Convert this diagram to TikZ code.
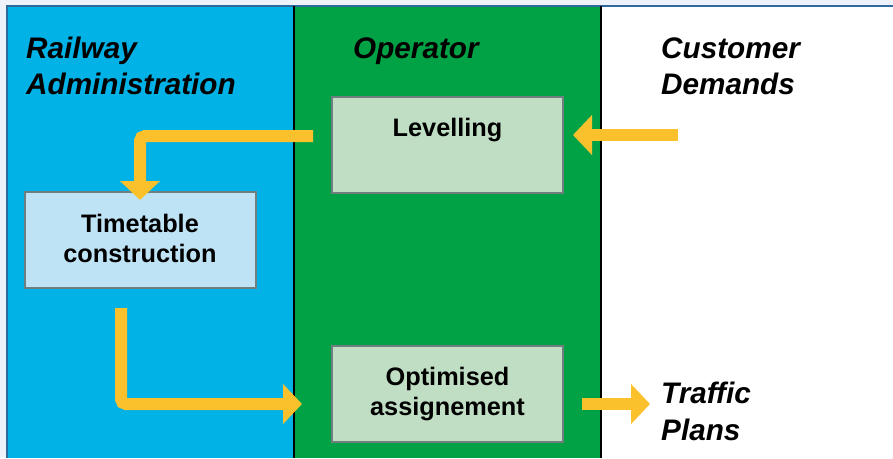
\documentclass[tikz,border=0pt]{standalone}
\usepackage{fontspec}
\setmainfont{Liberation Sans}
\usetikzlibrary{arrows.meta}

\definecolor{pagebg}{HTML}{EEF3FB}
\definecolor{frameline}{HTML}{2F6A9C}
\definecolor{railblue}{HTML}{00B2E5}
\definecolor{opgreen}{HTML}{00A245}
\definecolor{flowyellow}{HTML}{FBC12D}
\definecolor{boxgreen}{HTML}{BFDEC3}
\definecolor{boxblue}{HTML}{BEE3F5}
\definecolor{boxline}{HTML}{6F7F80}

% multi-line text nodes sit on the baseline of their last line
\tikzset{
  lane title/.style={anchor=base west, align=left, inner sep=0pt,
    font=\fontsize{29.7}{36.5}\selectfont\bfseries\itshape},
  taskbox/.style={draw=boxline, line width=2pt, minimum width=231pt,
    minimum height=96pt, inner sep=0pt},
  task text/.style={anchor=base, align=center, inner sep=0pt,
    font=\fontsize{25.3}{29.5}\selectfont\bfseries},
  flow/.style={draw=flowyellow, line width=12pt, rounded corners=5pt,
    -{Triangle[width=39pt,length=19pt]}},
}

\begin{document}
\begin{tikzpicture}[x=1pt,y=-1pt]
  \useasboundingbox (0,0) rectangle (893,458);
  \fill[pagebg] (0,0) rectangle (893,458);

  % swim lanes
  \fill[railblue] (7,6) rectangle (294,458);
  \fill[opgreen] (294,6) rectangle (601,458);
  \fill[white] (601,6) rectangle (893,458);
  \draw[frameline, line width=1.5pt] (7,458) -- (7,6) -- (893,6);
  \draw[black, line width=1.5pt] (294,6) -- (294,458);
  \draw[black, line width=1.5pt] (601,6) -- (601,458);

  % lane titles
  \node[lane title] (railway) at (26,94.5) {Railway\\Administration};
  \node[lane title] (operator) at (353,58) {Operator};
  \node[lane title] (customer) at (661,94.5) {Customer\\Demands};
  \node[lane title] (traffic) at (661,440) {Traffic\\Plans};

  % tasks
  \node[taskbox, fill=boxgreen] (lev) at (447.5,145) {};
  \node[task text] (levtext) at (447.5,136) {Levelling};
  \node[taskbox, fill=boxblue] (tt) at (140,240) {};
  \node[task text] (tttext) at (140,262) {Timetable\\construction};
  \node[taskbox, fill=boxgreen] (opt) at (447.5,394) {};
  \node[task text] (opttext) at (447.5,415) {Optimised\\assignement};

  % flow connectors
  \coordinate (demin) at (678,135);
  \coordinate (levout) at (313,136);
  \coordinate (ttout) at (121,308);
  \coordinate (optout) at (582,404);
  \coordinate (plansin) at (650,404);

  \draw[flow] (demin) -- ([xshift=9pt]lev.east |- demin);
  \draw[flow] (levout) -| ([yshift=-9pt]tt.north);
  \draw[flow] (ttout) |- ([xshift=-29pt]opt.west |- optout);
  \draw[flow] (optout) -- (plansin);
\end{tikzpicture}
\end{document}
